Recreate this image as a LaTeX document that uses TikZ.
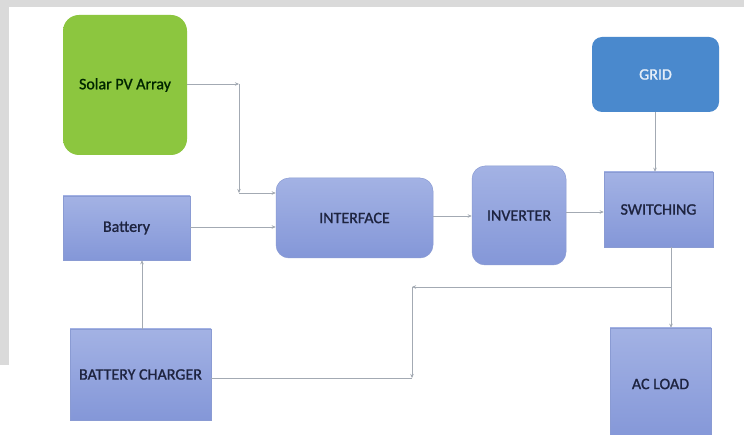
\documentclass[tikz,border=0pt]{standalone}
\usepackage{fontspec}
\setmainfont{Carlito}[FakeBold=1.2]
\newfontfamily\boxfont{Carlito}[AutoFakeBold=1.2]
\usetikzlibrary{arrows.meta}
\definecolor{boxtop}{HTML}{A3B2E4}
\definecolor{boxbot}{HTML}{8497D8}
\definecolor{boxedge}{HTML}{8A9BD3}
\definecolor{solargreen}{HTML}{8CC63F}
\definecolor{gridblue}{HTML}{4A89CD}
\definecolor{linegray}{HTML}{A3AAB3}
\definecolor{textnavy}{HTML}{1E2440}
\definecolor{framegray}{HTML}{DADADA}
\tikzset{
  blockbox/.style={draw=boxedge, line width=0.5pt, top color=boxtop, bottom color=boxbot,
    font=\boxfont\fontsize{16}{18}\selectfont\bfseries, text=textnavy, inner sep=0pt, anchor=center},
  roundbox/.style={blockbox, rounded corners=13pt},
  link/.style={draw=linegray, line width=0.8pt},
  tip/.style={link, -{Stealth[length=4pt,width=3.5pt]}},
}
\begin{document}
\begin{tikzpicture}[x=1pt, y=-1pt]
\useasboundingbox (0,0) rectangle (744,435);
\fill[framegray] (0,0) rectangle (744,435);
\fill[white] (9,7) rectangle (744,435);
\fill[white] (0,365) rectangle (9,435);

% boxes
\node[roundbox, draw=none, top color=solargreen, bottom color=solargreen, rounded corners=16pt,
  text=black!85!green, minimum width=124pt, minimum height=140pt] (solar) at (125,85) {Solar PV Array};
\node[roundbox, draw=none, top color=gridblue, bottom color=gridblue, rounded corners=10pt,
  text=white!85!gridblue, minimum width=127pt, minimum height=75pt] (grid) at (655.5,74.5) {GRID};
\node[blockbox, minimum width=127pt, minimum height=64pt] (battery) at (126.5,228) {Battery};
\node[roundbox, minimum width=157pt, minimum height=80pt] (interface) at (354.5,218) {INTERFACE};
\node[roundbox, minimum width=94pt, minimum height=99pt] (inverter) at (519,215.5) {INVERTER};
\node[blockbox, minimum width=109pt, minimum height=75pt] (switching) at (658.5,209.5) {SWITCHING};
\node[blockbox, minimum width=141pt, minimum height=91pt] (charger) at (140.5,374.5) {BATTERY CHARGER};
\node[blockbox, minimum width=101pt, minimum height=112pt] (acload) at (660.5,384) {AC LOAD};

% corner coordinates
\coordinate (c1) at (239,84);
\coordinate (c2) at (239,193);
\coordinate (c3) at (671,287);
\coordinate (c4) at (412,287);
\coordinate (c5) at (412,378);

% connectors
\draw[tip] (solar.east |- c1) -- (c1);
\draw[tip] (c1) -- (c2);
\draw[tip] (c2) -- (interface.west |- c2);
\draw[tip] (battery.east |- 0,227) -- (interface.west |- 0,227);
\draw[tip] (interface.east |- 0,216) -- (inverter.west |- 0,216);
\draw[tip] (inverter.east |- 0,212) -- (switching.west |- 0,212);
\draw[tip] (grid.south -| 655,0) -- (switching.north -| 655,0);
\draw[tip] (switching.south -| c3) -- (acload.north -| c3);
\draw[tip] (c3) -- (c4);
\draw[tip] (c4) -- (c5);
\draw[link] (c5) -- (charger.east |- c5);
\draw[tip] (charger.north -| 142,0) -- (battery.south -| 142,0);
\end{tikzpicture}
\end{document}
